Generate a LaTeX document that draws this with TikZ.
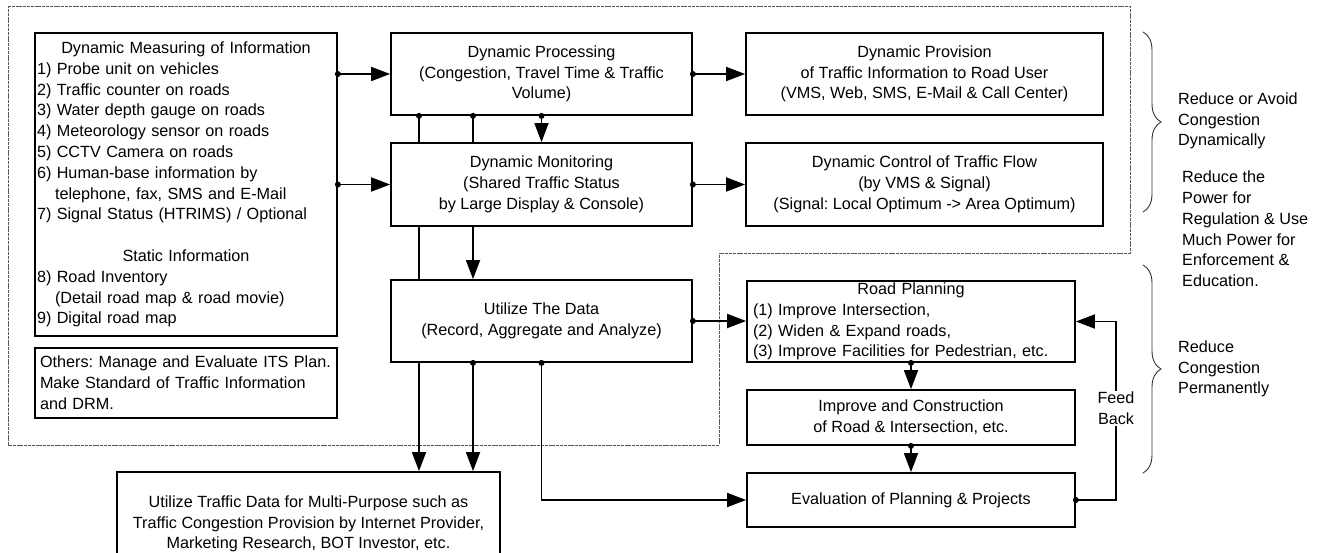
\documentclass[tikz,border=0pt]{standalone}
\usepackage{fontspec}
\setmainfont{Liberation Sans}
\usetikzlibrary{arrows.meta,decorations.pathreplacing}
\newcommand{\ctrline}[1]{\leavevmode\hskip0pt plus 1filll #1\hskip0pt plus 1filll\null}
\begin{document}
\begin{tikzpicture}[x=1pt,y=-1pt,
  every node/.style={font=\fontsize{16.2}{20.8}\selectfont\frenchspacing},
  box/.style={draw, line width=1.8pt, fill=white, inner sep=0pt, align=center},
  conn/.style={line width=1.8pt},
  arr/.style={conn, -{Triangle[length=19pt,width=14pt]}},
  frame/.style={draw=black!65, line width=0.9pt, dash pattern=on 3pt off 0.8pt},
  bracestyle/.style={decorate, decoration={brace, amplitude=18pt, aspect=0.5}, line width=0.9pt, draw=black!80},
  lbl/.style={inner sep=0pt, align=left, anchor=west}]
\useasboundingbox (0,0) rectangle (1320,553);

% outer frame
\draw[frame] (8,6) -- (1130,6) -- (1130,253) -- (719,253) -- (719,445) -- (8,445) -- cycle;

% boxes
\node[box, minimum width=302pt, minimum height=303pt, text width=298pt, inner xsep=2pt, align=left] (meas) at (186,184.5) {%
\ctrline{Dynamic Measuring of Information}\\
1) Probe unit on vehicles\\
2) Traffic counter on roads\\
3) Water depth gauge on roads\\
4) Meteorology sensor on roads\\
5) CCTV Camera on roads\\
6) Human-base information by\\
\hspace*{18pt}telephone, fax, SMS and E-Mail\\
7) Signal Status (HTRIMS) / Optional\\
\mbox{}\\
\ctrline{Static Information}\\
8) Road Inventory\\
\hspace*{18pt}(Detail road map \& road movie)\\
9) Digital road map};

\node[box, minimum width=302pt, minimum height=70pt, text width=292pt, inner xsep=5pt, align=left] (oth) at (186,383) {Others: Manage and Evaluate ITS Plan.\\Make Standard of Traffic Information\\and DRM.};

\node[box, minimum width=301pt, minimum height=82pt] (dp) at (541.5,74) {Dynamic Processing\\(Congestion, Travel Time \& Traffic\\Volume)};
\node[box, minimum width=301pt, minimum height=83pt] (dm) at (541.5,184.5) {Dynamic Monitoring\\(Shared Traffic Status\\by Large Display \& Console)};
\node[box, minimum width=301pt, minimum height=82pt] (ud) at (541.5,321) {Utilize The Data\\(Record, Aggregate and Analyze)};

\node[box, minimum width=357pt, minimum height=82pt] (prov) at (924.5,74) {Dynamic Provision\\of Traffic Information to Road User\\(VMS, Web, SMS, E-Mail \& Call Center)};
\node[box, minimum width=357pt, minimum height=83pt] (ctrl) at (924.5,184.5) {Dynamic Control of Traffic Flow\\(by VMS \& Signal)\\(Signal: Local Optimum -> Area Optimum)};

\node[box, minimum width=328pt, minimum height=81pt, text width=316pt, inner xsep=6pt, align=left] (rp) at (911,321.5) {%
\ctrline{Road Planning}\\
(1) Improve Intersection,\\
(2) Widen \& Expand roads,\\
(3) Improve Facilities for Pedestrian, etc.};
\node[box, minimum width=328pt, minimum height=55pt] (ic) at (911,417.5) {Improve and Construction\\of Road \& Intersection, etc.};
\node[box, minimum width=328pt, minimum height=54pt] (ev) at (911,500) {Evaluation of Planning \& Projects};

\node[box, minimum width=383pt, minimum height=104pt] (ut) at (308.5,524) {Utilize Traffic Data for Multi-Purpose such as\\Traffic Congestion Provision by Internet Provider,\\Marketing Research, BOT Investor, etc.};

% connectors
\coordinate (v1) at (419,0);
\coordinate (v2) at (473,0);
\coordinate (fb) at (1116,0);

\draw[arr] (meas.east |- dp.west) -- (dp.west);
\fill (meas.east |- dp.west) circle[radius=3pt];
\draw[arr] (meas.east |- dm.west) -- (dm.west);
\fill (meas.east |- dm.west) circle[radius=3pt];
\draw[arr] (dp.east) -- (prov.west);
\fill (dp.east) circle[radius=3pt];
\draw[arr] (dm.east) -- (ctrl.west);
\fill (dm.east) circle[radius=3pt];

\draw[conn] (v1 |- dp.south) -- (v1 |- dm.north);
\draw[conn] (v1 |- dm.south) -- (v1 |- ud.north);
\draw[arr] (v1 |- ud.south) -- (v1 |- ut.north);
\fill (v1 |- dp.south) circle[radius=3pt];

\draw[conn] (v2 |- dp.south) -- (v2 |- dm.north);
\draw[arr] (v2 |- dm.south) -- (v2 |- ud.north);
\draw[arr] (v2 |- ud.south) -- (v2 |- ut.north);
\fill (v2 |- dp.south) circle[radius=3pt];
\fill (v2 |- ud.south) circle[radius=3pt];

\draw[arr] (dp.south) -- (dm.north);
\fill (dp.south) circle[radius=3pt];

\draw[arr] (ud.south) |- (ev.west);
\fill (ud.south) circle[radius=3pt];
\draw[arr] (ud.east) -- (ud.east -| rp.west);
\fill (ud.east) circle[radius=3pt];

\draw[arr] (rp.south) -- (ic.north);
\fill (rp.south) circle[radius=3pt];
\draw[arr] (ic.south) -- (ev.north);
\fill (ic.south) circle[radius=3pt];

\draw[arr] (ev.east) -- (ev.east -| fb) -- (fb |- rp.east) -- (rp.east);
\fill (ev.east) circle[radius=3pt];
\node[fill=white, inner sep=1pt, align=center] (fbl) at (1116,408.5) {Feed\\Back};

% braces and side notes
\draw[bracestyle] (1143,32) -- (1143,212);
\draw[bracestyle] (1143,265) -- (1143,473);
\node[lbl] (n1) at (1178,121) {Reduce or Avoid\\Congestion\\Dynamically};
\node[lbl] (n2) at (1182,229) {Reduce the\\Power for\\Regulation \& Use\\Much Power for\\Enforcement \&\\Education.};
\node[lbl] (n3) at (1178,369) {Reduce\\Congestion\\Permanently};
\end{tikzpicture}
\end{document}
